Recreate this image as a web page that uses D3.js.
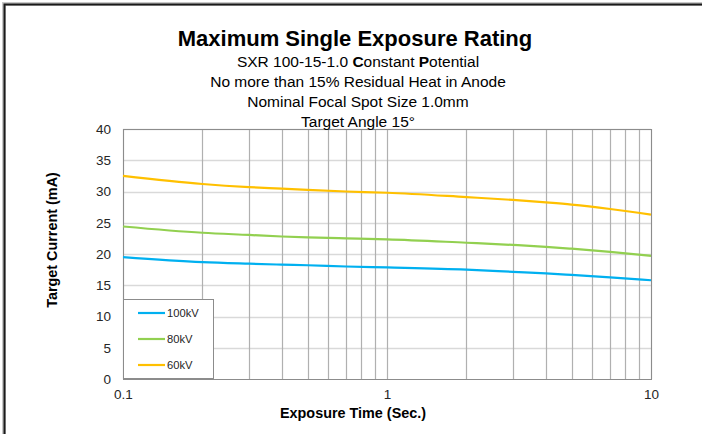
<!DOCTYPE html>
<html>
<head>
<meta charset="utf-8">
<script src="https://cdn.jsdelivr.net/npm/d3@7"></script>
<style>
  body { margin: 0; background: #fff; }
  svg { display: block; font-family: "Liberation Sans", Arial, sans-serif; }
</style>
</head>
<body>
<svg id="chart" width="702" height="434"></svg>
<script>
var times = [0.1, 0.2, 0.3, 0.4, 0.5, 0.7, 1, 2, 3, 4, 5, 7, 10];

// target current (mA) per tube voltage
var kv100 = [19.5, 18.7, 18.45, 18.3, 18.2, 18.0, 17.85, 17.5, 17.15, 16.9, 16.65, 16.25, 15.8];
var kv80 = [24.4, 23.4, 23.05, 22.8, 22.65, 22.5, 22.35, 21.8, 21.45, 21.15, 20.85, 20.35, 19.7];
var kv60 = [32.5, 31.2, 30.7, 30.45, 30.25, 30.0, 29.8, 29.1, 28.65, 28.25, 27.9, 27.2, 26.3];

var seriesNames = ["100kV", "80kV", "60kV"];
var seriesColors = ["#00b0f0", "#92d050", "#ffc000"];
var yTicks = [0, 5, 10, 15, 20, 25, 30, 35, 40];
var xLabels = [0.1, 1, 10];

var subtitles = [
    "No more than 15% Residual Heat in Anode",
    "Nominal Focal Spot Size 1.0mm",
    "Target Angle 15\u00b0"
];

var svg = d3.select("#chart");
// note: "top" is taken by window.top, so use plotTop
var plotLeft = 123, plotRight = 651, plotTop = 129, plotBottom = 379;

var x = d3.scaleLog().domain([0.1, 10]).range([plotLeft, plotRight]);
var y = d3.scaleLinear().domain([0, 40]).range([plotBottom, plotTop]);

// outer frame (only top and left are visible in the original)
svg.append("path")
    .attr("d", "M4,434 V4 H702")
    .attr("fill", "none")
    .attr("stroke", "#c8c8c8")
    .attr("stroke-width", 4);
svg.append("path")
    .attr("d", "M4.5,434 V4.5 H702")
    .attr("fill", "none")
    .attr("stroke", "#1a1a1a")
    .attr("stroke-width", 2);

// horizontal gridlines
svg.append("g")
  .selectAll("line")
  .data(yTicks.slice(1))
  .enter().append("line")
    .attr("x1", plotLeft).attr("x2", plotRight)
    .attr("y1", function (d) { return Math.round(y(d)) + 0.5; })
    .attr("y2", function (d) { return Math.round(y(d)) + 0.5; })
    .attr("stroke", "#d9d9d9")
    .attr("stroke-width", 1.5);

// vertical log gridlines
var xGrid = [];
[0.1, 1].forEach(function (dec) {
    for (var k = 1; k <= 9; k++) xGrid.push(dec * k);
});
xGrid.push(10);

svg.append("g")
  .selectAll("line")
  .data(xGrid)
  .enter().append("line")
    .attr("x1", function (d) { return Math.round(x(d)) + 0.5; })
    .attr("x2", function (d) { return Math.round(x(d)) + 0.5; })
    .attr("y1", plotTop).attr("y2", plotBottom)
    .attr("stroke", "#b0b0b0")
    .attr("stroke-width", 1.2);

// plot frame
svg.append("rect")
    .attr("x", plotLeft + 0.5).attr("y", plotTop + 0.5)
    .attr("width", plotRight - plotLeft).attr("height", plotBottom - plotTop)
    .attr("fill", "none")
    .attr("stroke", "#8c8c8c")
    .attr("stroke-width", 1);

// axes (labels only)
var yAxis = d3.axisLeft(y).tickValues(yTicks).tickSize(0).tickPadding(12);
svg.append("g")
    .attr("transform", "translate(" + plotLeft + ",0)")
    .call(yAxis)
    .call(function (g) { g.select(".domain").remove(); })
    .selectAll("text")
    .attr("font-size", 13.5)
    .attr("fill", "#262626");

var xAxis = d3.axisBottom(x).tickValues(xLabels).tickSize(0).tickPadding(10)
    .tickFormat(function (d) { return String(d); });
svg.append("g")
    .attr("transform", "translate(0," + plotBottom + ")")
    .call(xAxis)
    .call(function (g) { g.select(".domain").remove(); })
    .selectAll("text")
    .attr("font-size", 13.5)
    .attr("fill", "#262626");

// curves
var data = [kv100, kv80, kv60].map(function (vals, i) {
    return { name: seriesNames[i], color: seriesColors[i],
             values: vals.map(function (v, j) { return { t: times[j], v: v }; }) };
});

var line = d3.line()
    .x(function (d) { return x(d.t); })
    .y(function (d) { return y(d.v); })
    .curve(d3.curveMonotoneX);

svg.append("g")
  .selectAll("path")
  .data(data)
  .enter().append("path")
    .attr("d", function (d) { return line(d.values); })
    .attr("fill", "none")
    .attr("stroke", function (d) { return d.color; })
    .attr("stroke-width", 2.2);

// legend
var legend = svg.append("g").attr("transform", "translate(123,299)");
legend.append("rect")
    .attr("x", 0.5).attr("y", 0.5)
    .attr("width", 90).attr("height", 79)
    .attr("fill", "#fff")
    .attr("stroke", "#8c8c8c");

var item = legend.selectAll("g.item")
    .data(data)
  .enter().append("g")
    .attr("class", "item")
    .attr("transform", function (d, i) { return "translate(0," + (14 + i * 26) + ")"; });
item.append("line")
    .attr("x1", 15).attr("x2", 42)
    .attr("stroke", function (d) { return d.color; })
    .attr("stroke-width", 2.2);
item.append("text")
    .attr("x", 44).attr("y", 4)
    .attr("font-size", 11.2)
    .attr("fill", "#262626")
    .text(function (d) { return d.name; });

// titles
var cx = 355;
svg.append("text")
    .attr("x", cx).attr("y", 46)
    .attr("text-anchor", "middle")
    .attr("font-size", 22)
    .attr("font-weight", "bold")
    .attr("fill", "#000")
    .text("Maximum Single Exposure Rating");

var subX = 358;
var sub = svg.append("text")
    .attr("x", subX).attr("y", 66.5)
    .attr("text-anchor", "middle")
    .attr("font-size", 15.5)
    .attr("fill", "#000");
sub.append("tspan").text("SXR 100-15-1.0 ");
sub.append("tspan").attr("font-weight", "bold").text("C");
sub.append("tspan").text("onstant ");
sub.append("tspan").attr("font-weight", "bold").text("P");
sub.append("tspan").text("otential");

svg.append("g")
  .selectAll("text")
  .data(subtitles)
  .enter().append("text")
    .attr("x", subX)
    .attr("y", function (d, i) { return 86.5 + i * 20; })
    .attr("text-anchor", "middle")
    .attr("font-size", 15.5)
    .attr("fill", "#000")
    .text(function (d) { return d; });

// axis titles
svg.append("text")
    .attr("x", 353).attr("y", 418)
    .attr("text-anchor", "middle")
    .attr("font-size", 14.4)
    .attr("font-weight", "bold")
    .attr("fill", "#000")
    .text("Exposure Time (Sec.)");

svg.append("text")
    .attr("transform", "translate(57,240) rotate(-90)")
    .attr("text-anchor", "middle")
    .attr("font-size", 14.4)
    .attr("font-weight", "bold")
    .attr("fill", "#000")
    .text("Target Current (mA)");
</script>
</body>
</html>
